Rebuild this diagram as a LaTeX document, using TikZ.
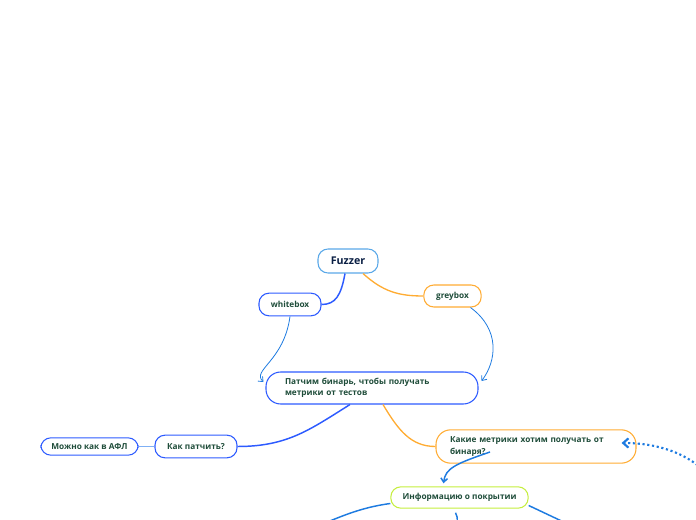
\documentclass[tikz,border=0pt]{standalone}
\usepackage{fontspec}
\setmainfont{Open Sans}
\usetikzlibrary{calc, positioning}
\usetikzlibrary{arrows.meta}

\definecolor{mapblue}{HTML}{2D5BFF}
\definecolor{linkblue}{HTML}{1E7BE0}
\definecolor{paleblue}{HTML}{7FB0F5}
\definecolor{rootblue}{HTML}{5AA8E8}
\definecolor{maporange}{HTML}{FFAC33}
\definecolor{mapgreen}{HTML}{C5EE3D}
\definecolor{inkgreen}{HTML}{1F4D3A}
\definecolor{inknavy}{HTML}{0A1F44}

\begin{document}
\begin{tikzpicture}[x=0.75pt,y=-0.75pt,
  topic/.style={draw,line width=0.8pt,rounded corners=7.5pt,fill=white,
    text=inkgreen,font=\fontsize{6.2}{8.6}\selectfont\bfseries,inner sep=0pt},
  wide/.style={topic,align=left,rounded corners=11pt},
  link/.style={line width=1.1pt,mapblue},
  thinlink/.style={line width=0.6pt,linkblue,-{Straight Barb[length=3pt,width=5pt]}}]
\useasboundingbox (0,0) rectangle (696,520);
\clip (0,0) rectangle (696,520);

% nodes
\node[topic,draw=rootblue,text=inknavy,font=\fontsize{8}{10}\selectfont\bfseries,
  minimum width=45pt,minimum height=18pt] (fuzzer) at (348,261) {Fuzzer};
\node[topic,draw=mapblue,minimum width=46.5pt,minimum height=17pt] (white) at (290,304.5) {whitebox};
\node[topic,draw=maporange,minimum width=43pt,minimum height=16.5pt] (grey) at (452.5,296) {greybox};
\node[wide,draw=mapblue,text width=130.5pt,inner xsep=14.25pt,
  minimum height=24pt] (patch) at (372,388) {Патчим бинарь, чтобы получать\\метрики от тестов};
\node[topic,draw=mapblue,minimum width=61.5pt,minimum height=17pt] (howto) at (196,446.5) {Как патчить?};
\node[topic,draw=mapblue,minimum width=73pt,minimum height=13pt] (afl) at (89.5,446.5) {Можно как в АФЛ};
\node[wide,draw=maporange,text width=129pt,inner xsep=10.5pt,
  minimum height=25pt] (metrics) at (536,446.5) {Какие метрики хотим получать от\\бинаря?};
\node[topic,draw=mapgreen,minimum width=103pt,minimum height=16pt] (cover) at (459.5,497.5) {Информацию о покрытии};

% connectors
\draw[link] ($(fuzzer.south)+(-3,0)$) .. controls +(-4,22) and +(14,0) .. (white.east);
\draw[line width=1pt,maporange] ($(fuzzer.south)+(15,0)$) .. controls +(20,18) and +(-25,0) .. (grey.west);
\draw[thinlink] (white.south) .. controls +(-6,45) and +(-12,-12) .. ($(patch.west)+(-2,-6)$);
\draw[thinlink] ($(grey.south)+(18,0)$) .. controls +(30,22) and +(15,-20) .. ($(patch.east)+(3,-7)$);
\draw[link] ($(patch.south)+(-22,0)$) .. controls +(-40,25) and +(50,0) .. (howto.east);
\draw[line width=1pt,paleblue] (howto.west) -- (afl.east);
\draw[line width=1pt,maporange] ($(patch.south)+(11,0)$) .. controls +(15,25) and +(-25,0) .. (metrics.west);
\draw[line width=1.1pt,linkblue,-{Straight Barb[length=3pt,width=5pt]}]
  ($(metrics.center)+(-46,5.5)$) .. controls +(-35,12) and +(2,-15) .. ($(cover.north)+(-16,-3)$);
\coordinate (farright) at (720,490);
\draw[line width=1.6pt,linkblue,dotted,-{Straight Barb[length=4pt,width=7pt]}]
  (farright) .. controls +(-25,-40) and +(30,0) .. ($(metrics.east)+(-15,-3.5)$);
\coordinate (downleft) at (320,525);
\coordinate (downmid) at (457,525);
\coordinate (downright) at (570,525);
\draw[line width=1.1pt,linkblue] ($(cover.west)+(0,6)$) .. controls +(-30,4) and +(20,-8) .. (downleft);
\draw[line width=1.1pt,linkblue] ($(cover.south)+(-4,4)$) .. controls +(2,4) .. (downmid);
\draw[line width=1.1pt,linkblue] ($(cover.east)+(0,8)$) -- (downright);
\end{tikzpicture}
\end{document}
